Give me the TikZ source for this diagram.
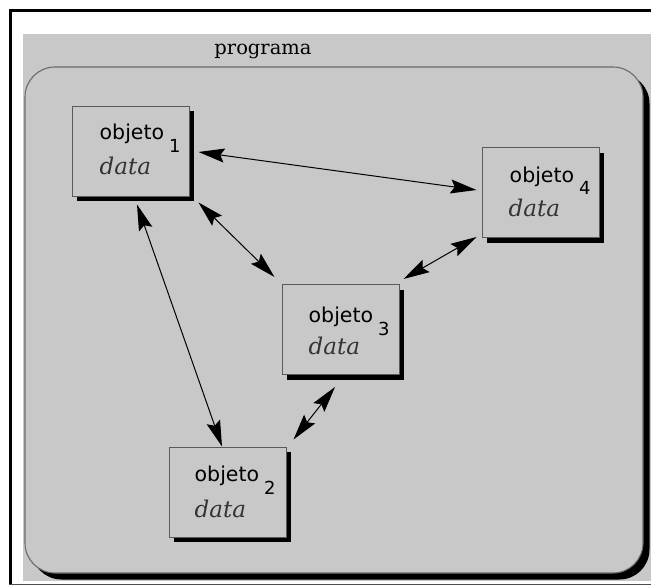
\documentclass[tikz,border=0pt]{standalone}
\usepackage{fontspec}
\usetikzlibrary{arrows.meta,shadows}
\newfontfamily\objfont{DejaVu Sans}
\newfontfamily\serifdv{DejaVu Serif}
\definecolor{bg}{RGB}{200,200,200}
\definecolor{boxgray}{RGB}{90,90,90}
\tikzset{
  objbox/.style={draw=boxgray, fill=bg, line width=1pt, inner sep=0pt,
    minimum width=117pt, minimum height=90pt,
    general shadow={fill=black, shadow xshift=5pt, shadow yshift=-5pt}},
  progbox/.style={draw=boxgray!90, fill=bg, line width=1.1pt, inner sep=0pt,
    rounded corners=30pt, minimum width=618pt, minimum height=506pt,
    general shadow={fill=black, shadow xshift=6.5pt, shadow yshift=-6.5pt}},
  objtext/.style={anchor=base west, inner sep=0pt, font=\objfont\fontsize{20.5}{24}\selectfont},
  datatext/.style={anchor=base west, inner sep=0pt, font=\serifdv\itshape\fontsize{23}{27}\selectfont, text=black!80},
  link/.style={line width=1pt, black,
    {Stealth[length=26pt,width=14pt,inset=4pt]}-{Stealth[length=26pt,width=14pt,inset=4pt]}}
}
\newcommand{\objlabel}[1]{objeto\hspace{5pt}\raisebox{-13pt}{\fontsize{18}{18}\selectfont #1}}
\begin{document}
\begin{tikzpicture}[x=1pt,y=-1pt]
\useasboundingbox (0,0) rectangle (651,586);
\fill[white] (0,0) rectangle (651,586);
% frame
\fill[bg] (23,34) rectangle (651,581);
\draw[line width=3pt] (10.5,9) -- (10.5,584.5);
\draw[line width=3pt] (9,10.5) -- (651,10.5);
\draw[line width=1.2pt, black!70] (9,584.5) -- (651,584.5);
% program container
\node[progbox] (prog) at (334,320) {};
\node[inner sep=0pt, font=\serifdv\fontsize{19.5}{23}\selectfont] (progl) at (263,51) {programa};
% objects
\node[objbox] (b1) at (130.5,151) {};
\node[objbox] (b4) at (540.5,192.5) {};
\node[objbox] (b3) at (340.5,329.5) {};
\node[objbox] (b2) at (227.5,492) {};
\node[objtext] (o1) at ([shift={(28,34)}]b1.north west) {\objlabel{1}};
\node[datatext] (d1) at ([shift={(28,69)}]b1.north west) {data};
\node[objtext] (o4) at ([shift={(28,35)}]b4.north west) {\objlabel{4}};
\node[datatext] (d4) at ([shift={(27,69)}]b4.north west) {data};
\node[objtext] (o3) at ([shift={(27,38)}]b3.north west) {\objlabel{3}};
\node[datatext] (d3) at ([shift={(27,70)}]b3.north west) {data};
\node[objtext] (o2) at ([shift={(26,35)}]b2.north west) {\objlabel{2}};
\node[datatext] (d2) at ([shift={(26,71)}]b2.north west) {data};
% connector ends
\coordinate (c14a) at ([shift={(9,1)}]b1.east);
\coordinate (c14b) at ([shift={(-5,-2.5)}]b4.west);
\coordinate (c13a) at ([shift={(9,6)}]b1.south east);
\coordinate (c13b) at ([shift={(-7,-7)}]b3.north west);
\coordinate (c34a) at ([shift={(4,-5)}]b3.north east);
\coordinate (c34b) at ([shift={(-5,-1)}]b4.south west);
\coordinate (c12a) at ([shift={(6.5,8)}]b1.south);
\coordinate (c12b) at ([shift={(-5.5,0)}]b2.north);
\coordinate (c23a) at ([shift={(7,-7)}]b2.north east);
\coordinate (c23b) at ([shift={(-5.5,12)}]b3.south);
\draw[link] (c14a) -- (c14b);
\draw[link] (c13a) -- (c13b);
\draw[link] (c34a) -- (c34b);
\draw[link] (c12a) -- (c12b);
\draw[link] (c23a) -- (c23b);
\end{tikzpicture}
\end{document}
